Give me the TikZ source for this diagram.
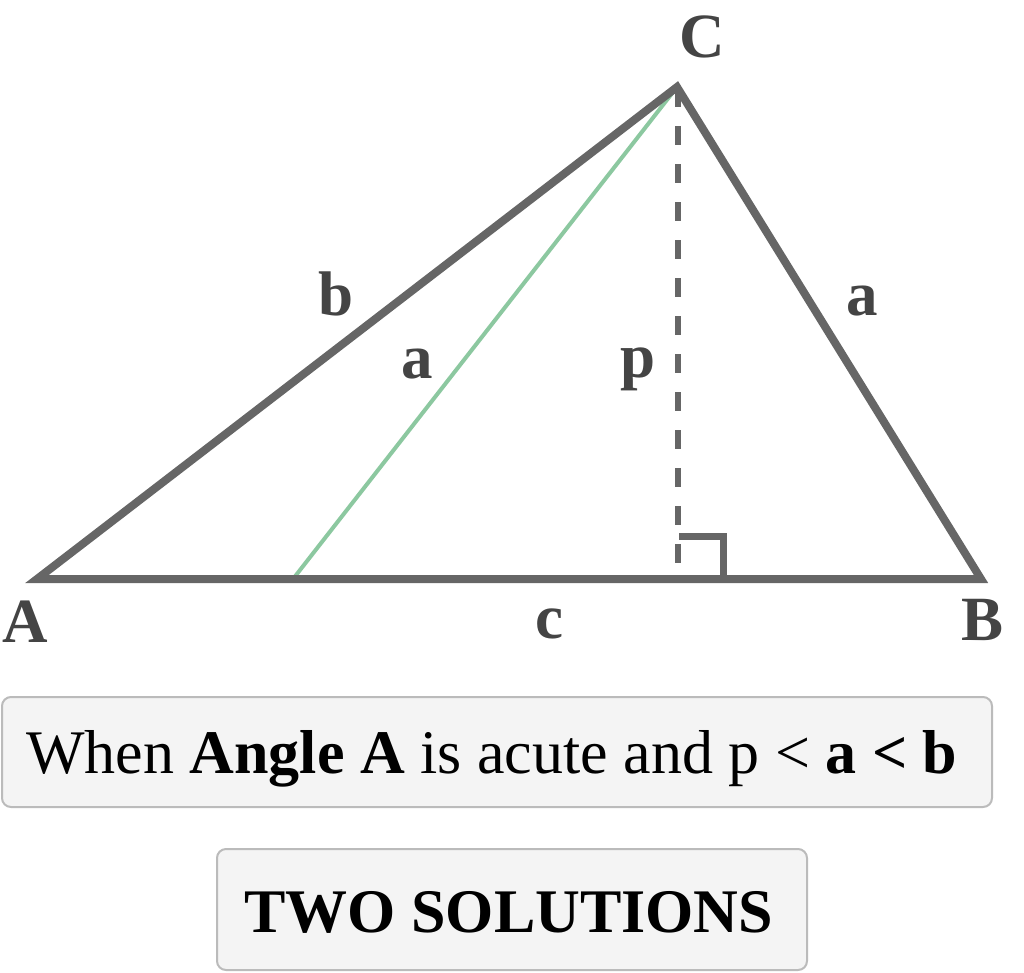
\documentclass[tikz,border=0pt]{standalone}
\usepackage{fontspec}
\setmainfont{Liberation Serif}
\definecolor{edge}{HTML}{666666}
\definecolor{lab}{HTML}{444444}
\definecolor{grn}{HTML}{8CC8A0}
\definecolor{boxfill}{HTML}{F4F4F4}
\definecolor{boxline}{HTML}{BBBBBB}
\tikzset{
  side/.style={draw=edge, line width=8pt, line join=miter},
  lbl/.style={text=lab, font=\fontsize{63}{63}\selectfont\bfseries, inner sep=0pt, anchor=base},
  panel/.style={draw=boxline, line width=2pt, fill=boxfill, rounded corners=9pt},
  paneltext/.style={text=black, font=\fontsize{62}{62}\selectfont, inner sep=0pt}
}
\begin{document}
\begin{tikzpicture}[x=1pt, y=-1pt]
\useasboundingbox (0,0) rectangle (1024,972);
% vertices
\coordinate (A) at (37,579);
\coordinate (B) at (981,579);
\coordinate (C) at (677,87);
\coordinate (G) at (293,579);
\coordinate (F) at (678,563);
\coordinate (R1) at (679,536);
\coordinate (R2) at (723,536);
\coordinate (R3) at (723,579);
% green line
\draw[draw=grn, line width=4pt] (C) -- (G);
% altitude
\draw[draw=edge, line width=6pt, dash pattern=on 19pt off 19pt] (678,88) -- (F);
% right angle mark
\draw[draw=edge, line width=7pt, line join=miter] (R1) -- (R2) -- (R3);
% triangle
\draw[side] (A) -- (B) -- (C) -- cycle;
% labels
\node[lbl] (lC) at (702,57) {C};
\node[lbl] (lA) at (25,642) {A};
\node[lbl] (lB) at (982,640) {B};
\node[lbl] (lc) at (549,638) {c};
\node[lbl] (lb) at (336,315) {b};
\node[lbl] (la1) at (417,378) {a};
\node[lbl] (lp) at (638,377) {p};
\node[lbl] (la2) at (862,315) {a};
% boxes
\draw[panel] (2,697) rectangle (992,807);
\node[paneltext, anchor=base west] (t1) at (26,773) {When \textbf{Angle A} is acute and p < \textbf{a < b}};
\draw[panel] (217,849) rectangle (807,970);
\node[paneltext, anchor=base west, font=\fontsize{62}{62}\selectfont\bfseries] (t2) at (244,932) {TWO SOLUTIONS};
\end{tikzpicture}
\end{document}
